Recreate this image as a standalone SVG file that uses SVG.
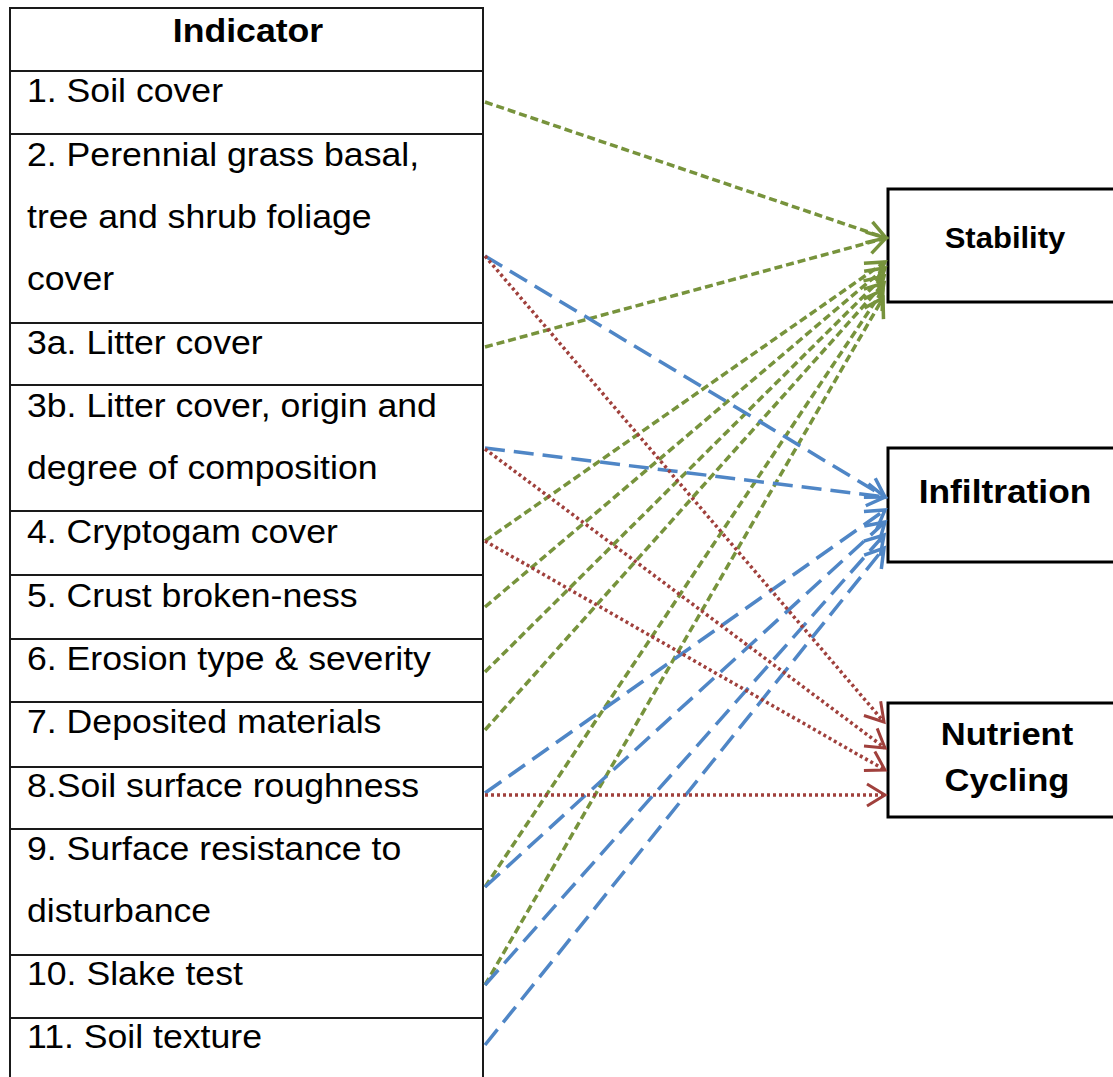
<svg xmlns="http://www.w3.org/2000/svg" width="1113" height="1077" viewBox="0 0 1113 1077">
  <style>
    .cell { fill: #ffffff; stroke: #1a1a1a; stroke-width: 2; }
    .rule { stroke: #1a1a1a; stroke-width: 2; }
    .box { fill: #ffffff; stroke: #000000; stroke-width: 3; }
    .lbl { font-family: "Liberation Sans", Arial, sans-serif; font-size: 33px; fill: #000000; }
    .hdr { font-family: "Liberation Sans", Arial, sans-serif; font-size: 33px; font-weight: bold; fill: #000000; }
    .out { font-family: "Liberation Sans", Arial, sans-serif; font-weight: bold; fill: #000000; text-anchor: middle; }
    .stab { stroke: #77933C; stroke-width: 3.5; fill: none; stroke-dasharray: 8 4; marker-end: url(#headG); }
    .infl { stroke: #4F86C6; stroke-width: 3.5; fill: none; stroke-dasharray: 20 9; marker-end: url(#headB); }
    .nutr { stroke: #A0403C; stroke-width: 3.5; fill: none; stroke-dasharray: 3 3; marker-end: url(#headR); }
  </style>
  <defs>
    <marker id="headG" markerUnits="userSpaceOnUse" markerWidth="40" markerHeight="40" viewBox="-25 -20 30 40" refX="0" refY="0" orient="auto" overflow="visible">
      <path d="M-18,-11 L0,0 L-18,11" fill="none" stroke="#77933C" stroke-width="3.5" stroke-dasharray="none" stroke-linejoin="miter"/>
    </marker>
    <marker id="headB" markerUnits="userSpaceOnUse" markerWidth="40" markerHeight="40" viewBox="-25 -20 30 40" refX="0" refY="0" orient="auto" overflow="visible">
      <path d="M-18,-11 L0,0 L-18,11" fill="none" stroke="#4F86C6" stroke-width="3.5" stroke-dasharray="none"/>
    </marker>
    <marker id="headR" markerUnits="userSpaceOnUse" markerWidth="40" markerHeight="40" viewBox="-25 -20 30 40" refX="0" refY="0" orient="auto" overflow="visible">
      <path d="M-18,-11 L0,0 L-18,11" fill="none" stroke="#A0403C" stroke-width="3" stroke-dasharray="none"/>
    </marker>
  </defs>

  <rect width="1113" height="1077" fill="#ffffff"/>

  <!-- indicator table -->
  <g id="indicator-table">
    <rect class="cell" x="10" y="8" width="473" height="1080"/>
    <line class="rule" x1="10" y1="71" x2="483" y2="71"/>
    <line class="rule" x1="10" y1="134" x2="483" y2="134"/>
    <line class="rule" x1="10" y1="323" x2="483" y2="323"/>
    <line class="rule" x1="10" y1="385" x2="483" y2="385"/>
    <line class="rule" x1="10" y1="511" x2="483" y2="511"/>
    <line class="rule" x1="10" y1="575" x2="483" y2="575"/>
    <line class="rule" x1="10" y1="639" x2="483" y2="639"/>
    <line class="rule" x1="10" y1="702" x2="483" y2="702"/>
    <line class="rule" x1="10" y1="767" x2="483" y2="767"/>
    <line class="rule" x1="10" y1="829" x2="483" y2="829"/>
    <line class="rule" x1="10" y1="955" x2="483" y2="955"/>
    <line class="rule" x1="10" y1="1018" x2="483" y2="1018"/>
    <g transform="translate(248,0) scale(1.08,1)">
      <text class="hdr" x="0" y="42" text-anchor="middle">Indicator</text>
    </g>
  </g>

  <g id="indicators" transform="translate(27,0) scale(1.08,1)">
    <g id="ind-1"><text class="lbl" x="0" y="102">1. Soil cover</text></g>
    <g id="ind-2">
      <text class="lbl" x="0" y="166">2. Perennial grass basal,</text>
      <text class="lbl" x="0" y="228">tree and shrub foliage</text>
      <text class="lbl" x="0" y="290">cover</text>
    </g>
    <g id="ind-3a"><text class="lbl" x="0" y="354">3a. Litter cover</text></g>
    <g id="ind-3b">
      <text class="lbl" x="0" y="417">3b. Litter cover, origin and</text>
      <text class="lbl" x="0" y="479">degree of composition</text>
    </g>
    <g id="ind-4"><text class="lbl" x="0" y="543">4. Cryptogam cover</text></g>
    <g id="ind-5"><text class="lbl" x="0" y="607">5. Crust broken-ness</text></g>
    <g id="ind-6"><text class="lbl" x="0" y="670">6. Erosion type &amp; severity</text></g>
    <g id="ind-7"><text class="lbl" x="0" y="733">7. Deposited materials</text></g>
    <g id="ind-8"><text class="lbl" x="0" y="797">8.Soil surface roughness</text></g>
    <g id="ind-9">
      <text class="lbl" x="0" y="860">9. Surface resistance to</text>
      <text class="lbl" x="0" y="922">disturbance</text>
    </g>
    <g id="ind-10"><text class="lbl" x="0" y="985">10. Slake test</text></g>
    <g id="ind-11"><text class="lbl" x="0" y="1048">11. Soil texture</text></g>
  </g>

  <!-- outcome boxes -->
  <g id="stability">
    <rect class="box" x="888" y="189" width="240" height="113"/>
    <g transform="translate(1005,0) scale(1.07,1)">
      <text class="out" x="0" y="248" font-size="29">Stability</text>
    </g>
  </g>
  <g id="infiltration">
    <rect class="box" x="888" y="448" width="240" height="114"/>
    <g transform="translate(1005,0) scale(1.07,1)">
      <text class="out" x="0" y="503" font-size="33">Infiltration</text>
    </g>
  </g>
  <g id="nutrient-cycling">
    <rect class="box" x="888" y="703" width="240" height="114"/>
    <g transform="translate(1007,0) scale(1.08,1)">
      <text class="out" x="0" y="745" font-size="32">Nutrient</text>
      <text class="out" x="0" y="791" font-size="32">Cycling</text>
    </g>
  </g>

  <!-- connectors -->
  <g id="connectors">
    <!-- to Stability -->
    <line class="stab" x1="485" y1="102" x2="886" y2="238"/>
    <line class="stab" x1="485" y1="347" x2="886" y2="238"/>
    <line class="stab" x1="485" y1="541" x2="885" y2="262"/>
    <line class="stab" x1="485" y1="607" x2="885" y2="268"/>
    <line class="stab" x1="485" y1="672" x2="884" y2="276"/>
    <line class="stab" x1="485" y1="730" x2="884" y2="283"/>
    <line class="stab" x1="485" y1="887" x2="883" y2="290"/>
    <line class="stab" x1="485" y1="985" x2="883" y2="298"/>
    <!-- to Infiltration -->
    <line class="infl" x1="485" y1="256" x2="885" y2="497"/>
    <line class="infl" x1="485" y1="448" x2="885" y2="497"/>
    <line class="infl" x1="485" y1="793" x2="885" y2="510"/>
    <line class="infl" x1="485" y1="887" x2="885" y2="522"/>
    <line class="infl" x1="485" y1="985" x2="884" y2="535"/>
    <line class="infl" x1="485" y1="1045" x2="884" y2="548"/>
    <!-- to Nutrient Cycling -->
    <line class="nutr" x1="485" y1="256" x2="884" y2="722"/>
    <line class="nutr" x1="485" y1="449" x2="885" y2="748"/>
    <line class="nutr" x1="485" y1="541" x2="885" y2="770"/>
    <line class="nutr" x1="485" y1="795" x2="885" y2="795"/>
  </g>
</svg>
